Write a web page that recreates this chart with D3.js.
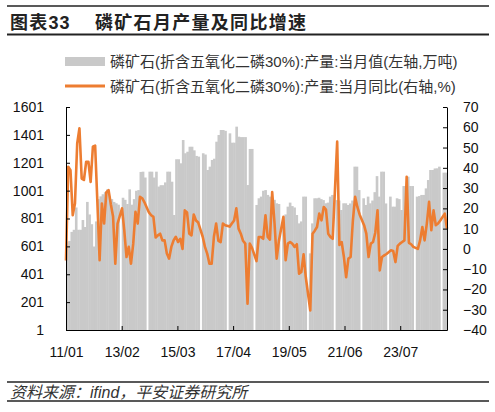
<!DOCTYPE html>
<html>
<head>
<meta charset="utf-8">
<script src="https://cdn.jsdelivr.net/npm/d3@7"></script>
<style>
  body { margin: 0; background: #fff; }
  text { font-family: "Liberation Sans", Arial, "Noto Sans CJK SC", sans-serif; }
</style>
</head>
<body>
<div id="chart"></div>
<script>
// monthly categories 2011-01 .. 2025-03
const months = d3.timeMonth.range(new Date(2011, 0, 1), new Date(2025, 3, 1))
    .map(d => d3.timeFormat('%y/%m')(d));

// 产量:当月值 (万吨), null = no January figure
const output = [
    635, 640, 705, 720, 880, 720, 720, 790, 740, 920, 830, 760,
    600, 780, 940, 960, 975, 990, 1010, 960, 940, 920, 910, 900,
    null, 950, 935, 905, 1010, 900, 940, 1000, 1005, 1135, 1137, 1095,
    null, 1137, 1137, 1095, 1137, 1030, 1040, 1040, 1060, 1137, 1137, 1065,
    826, 1226, 1226, 1197, 1364, 1269, 1280, 1316, 1316, 1290, 1250, 1245,
    null, 1269, 1260, 1149, 1173, 1221, 1230, 1352, 1400, 1436, 1436, 1430,
    null, 1412, 1345, 1345, 1460, 1388, 1385, 1385, 1385, 1041, 1300, 1300,
    null, 898, 946, 958, 1000, 1005, 970, 958, 940, 935, 910, 905,
    null, 814, 830, 886, 915, 890, 880, 826, 766, 780, 958, 958,
    null, 551, 766, 946, 946, 950, 940, 933, 910, 915, 958, 970,
    null, 933, 930, 862, 910, 910, 898, 909, 930, 1173, 1173, 1005,
    null, 946, 898, 958, 910, 930, 990, 1105, 958, 1137, 1137, 909,
    null, 958, 886, 886, 946, 940, 862, 1034, 1034, 1101, 1034, 1034,
    null, 958, 962, 970, 970, 1017, 1077, 1149, 1149, 1160, 1161, 1173,
    null, 1130, 1130
];

// 产量:当月同比 (%)
const yoy = [
    -5.7, 40.5, 38.8, 16.6, 22.4, 52, 59.5, 34.7, 34, 43, 43, 33,
    50.4, 51, 23, -5.6, 22.4, 12.5, 28, 29, 22, 16, -7.3, 12.5,
    null, 20, 9.2, -4, 1, -7.3, 2.6, 18.3, 12.5, 25.7, 25, 23,
    null, 18, 16.6, 15.8, 5.6, 6.7, 7.5, 4.2, 4.2, -2.3, -4.8, 1,
    4.2, 6, 3.4, 5, 0, 19, 18, 7.5, 6.7, 17, 14, 13,
    null, 6, 1, -2.3, -7.3, -7.3, 6, 12.5, 4, 3.4, 12.5, 11.7,
    null, 11, 12.5, 14, 20, 10, 7.5, 4, 2.6, -27, 2.6, 0.5,
    null, -6, 5.9, 5.9, 5, 16.6, 5.9, 4.6, 28, 13.3, -4.8, 4,
    null, 15.8, -5.6, 2.6, 3.4, 2.5, 1, 2.3, -12.2, -11.4, -2.7, -14,
    null, -30.4, 7.5, 9, 10.8, 17.4, 14.1, 20.7, 19.4, 7.5, 5.9, 5,
    null, 52.9, 2, 3.4, -4, -14, -4.8, -4, 14, 25.7, 20.7, 17,
    null, 11.7, 7.5, -4, 2.6, 3.4, 8, 19, -10.6, -4, -3.2, -2.5,
    null, -0.7, -1, -6.5, 1.5, 2.6, 3.4, 4.2, 35.6, 3, 2.3, 1,
    null, 0, 4.2, 10.8, 4.2, 12.5, 23.2, 9.2, 19, 11.7, 12.5, 14,
    null, 17.4, 10
];

const leftTicks = [1, 201, 401, 601, 801, 1001, 1201, 1401, 1601];
const rightTicks = [-40, -30, -20, -10, 0, 10, 20, 30, 40, 50, 60, 70];
const xTickLabels = ['11/01', '13/02', '15/03', '17/04', '19/05', '21/06', '23/07'];

const title = ['图表33', '磷矿石月产量及同比增速'];
const legendLabels = [
    '磷矿石(折含五氧化二磷30%):产量:当月值(左轴,万吨)',
    '磷矿石(折含五氧化二磷30%):产量:当月同比(右轴,%)'
];
const source = '资料来源：ifind，平安证券研究所';

const W = 495, H = 412;
const plot = { left: 66, right: 447, top: 107, bottom: 330 };
const barColor = '#c9c9c9';
const lineColor = '#ed7d31';

const svg = d3.select('#chart').append('svg')
    .attr('width', W)
    .attr('height', H);

// header
svg.append('line').attr('x1', 7).attr('x2', 489).attr('y1', 6).attr('y2', 6)
    .attr('stroke', '#222').attr('stroke-width', 1.3);
svg.append('line').attr('x1', 7).attr('x2', 489).attr('y1', 34.5).attr('y2', 34.5)
    .attr('stroke', '#222').attr('stroke-width', 1.8);
svg.append('text').attr('x', 10).attr('y', 28.5)
    .style('font-size', '18px').style('font-weight', 'bold').style('letter-spacing', '1.2px')
    .attr('fill', '#222').text(title[0]);
svg.append('text').attr('x', 95).attr('y', 28.5)
    .style('font-size', '18px').style('font-weight', 'bold').style('letter-spacing', '1.3px')
    .attr('fill', '#222').text(title[1]);

// legend
svg.append('rect').attr('x', 65).attr('y', 57).attr('width', 40).attr('height', 9)
    .attr('fill', barColor);
svg.append('line').attr('x1', 65).attr('x2', 105).attr('y1', 86).attr('y2', 86)
    .attr('stroke', lineColor).attr('stroke-width', 3);
svg.selectAll('.legend-text')
    .data(legendLabels)
    .enter().append('text')
    .attr('class', 'legend-text')
    .attr('x', 110)
    .attr('y', (d, i) => 62 + i * 25)
    .attr('dy', '0.35em')
    .style('font-size', '15px')
    .attr('fill', '#333')
    .text(d => d);

// scales
const x = d3.scaleBand()
    .domain(months)
    .range([plot.left, plot.right])
    .padding(0);

const xLine = d3.scalePoint()
    .domain(months)
    .range([plot.left, plot.right])
    .padding(0);

const xIdx = d3.scaleLinear()
    .domain([0, months.length])
    .range([plot.left, plot.right]);

const yLeft = d3.scaleLinear()
    .domain([1, 1601])
    .range([plot.bottom, plot.top]);

const yRight = d3.scaleLinear()
    .domain([-40, 70])
    .range([plot.bottom, plot.top]);

// bars
const barData = months.map((m, i) => ({ m, v: output[i] })).filter(d => d.v != null);
svg.append('g').selectAll('rect')
    .data(barData)
    .enter().append('rect')
    .attr('x', d => x(d.m))
    .attr('width', x.bandwidth() + 0.4)
    .attr('y', d => yLeft(d.v))
    .attr('height', d => yLeft(1) - yLeft(d.v))
    .attr('fill', barColor);

// line
const lineData = months.map((m, i) => ({ m, v: yoy[i] })).filter(d => d.v != null);
const line = d3.line()
    .x(d => xLine(d.m))
    .y(d => yRight(d.v));
svg.append('path')
    .datum(lineData)
    .attr('d', line)
    .attr('fill', 'none')
    .attr('stroke', lineColor)
    .attr('stroke-width', 2.6)
    .attr('stroke-linejoin', 'round');

// axes
const styleAxis = g => {
    g.selectAll('path, line').attr('stroke', '#000').attr('stroke-width', 1);
    g.selectAll('text').style('font-size', '14px').attr('fill', '#111')
        .style('font-family', '"Liberation Sans", Arial, sans-serif');
};

svg.append('g')
    .attr('transform', `translate(${plot.left},0)`)
    .call(d3.axisLeft(yLeft).tickValues(leftTicks).tickFormat(d3.format('d'))
        .tickSizeInner(-4).tickSizeOuter(0).tickPadding(22))
    .call(styleAxis);

svg.append('g')
    .attr('transform', `translate(${plot.right},0)`)
    .call(d3.axisRight(yRight).tickValues(rightTicks).tickFormat(d3.format('d'))
        .tickSizeInner(-4).tickSizeOuter(0).tickPadding(16))
    .call(styleAxis);

const tickIdx = xTickLabels.map((d, k) => k * 25);
svg.append('g')
    .attr('transform', `translate(0,${plot.bottom})`)
    .call(d3.axisBottom(xIdx).tickValues(tickIdx).tickFormat((d, k) => xTickLabels[k])
        .tickSizeInner(-4).tickSizeOuter(0).tickPadding(17))
    .call(styleAxis);

// footer
svg.append('line').attr('x1', 7).attr('x2', 489).attr('y1', 382).attr('y2', 382)
    .attr('stroke', '#222').attr('stroke-width', 1.3);
svg.append('line').attr('x1', 7).attr('x2', 489).attr('y1', 401).attr('y2', 401)
    .attr('stroke', '#222').attr('stroke-width', 1.3);
svg.append('text').attr('x', 10).attr('y', 392)
    .attr('dy', '0.35em')
    .style('font-size', '16px').style('font-style', 'italic')
    .attr('fill', '#333')
    .text(source);
</script>
</body>
</html>
